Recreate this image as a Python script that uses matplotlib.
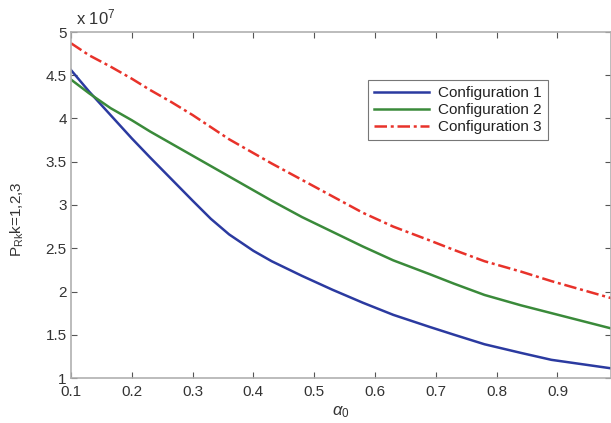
import numpy as np
import matplotlib

matplotlib.use('Agg')
from matplotlib import pyplot as plt

plt.rcParams['font.family'] = ['Liberation Sans', 'DejaVu Sans']
plt.rcParams['mathtext.fontset'] = 'custom'
plt.rcParams['mathtext.rm'] = 'Liberation Sans'
plt.rcParams['mathtext.it'] = 'Liberation Sans:italic'

# alpha_0 sample points
alpha = [0.1, 0.13, 0.165, 0.2, 0.23, 0.265, 0.3, 0.33, 0.36, 0.4, 0.43,
         0.48, 0.53, 0.58, 0.63, 0.69, 0.73, 0.78, 0.84, 0.89, 0.99]
# power values in units of 1e7
config1 = [4.56, 4.31, 4.04, 3.77, 3.55, 3.30, 3.05, 2.84, 2.66, 2.47, 2.35,
           2.18, 2.02, 1.87, 1.73, 1.59, 1.50, 1.39, 1.29, 1.21, 1.11]
config2 = [4.45, 4.29, 4.12, 3.98, 3.85, 3.71, 3.57, 3.45, 3.33, 3.17, 3.05,
           2.86, 2.69, 2.52, 2.36, 2.20, 2.09, 1.96, 1.84, 1.75, 1.57]
config3 = [4.87, 4.73, 4.60, 4.46, 4.33, 4.19, 4.04, 3.90, 3.76, 3.60, 3.48,
           3.29, 3.10, 2.91, 2.75, 2.59, 2.48, 2.35, 2.23, 2.12, 1.92]
labels = ['Configuration 1', 'Configuration 2', 'Configuration 3']

xticks = [0.1, 0.2, 0.3, 0.4, 0.5, 0.6, 0.7, 0.8, 0.9]
yticks = [1, 1.5, 2, 2.5, 3, 3.5, 4, 4.5, 5]

fig = plt.figure(figsize=(6.11, 4.23), dpi=100)
ax = fig.add_axes([71 / 611, 1 - 378 / 423, 1 - 71 / 611, (378 - 32) / 423])

ax.plot(alpha, config1, color='#2b3aa0', lw=1.8, label=labels[0])
ax.plot(alpha, config2, color='#3a8a3a', lw=1.8, label=labels[1])
ax.plot(alpha, config3, color='#e8322a', lw=1.8, ls=(0, (5, 1.5, 1.2, 1.5)), label=labels[2])

ax.set_xlim(0.1, 0.988)
ax.set_ylim(1, 5)
ax.set_xticks(xticks)
ax.set_xticklabels([str(t) for t in xticks])
ax.set_yticks(yticks)
ax.set_yticklabels(['1', '1.5', '2', '2.5', '3', '3.5', '4', '4.5', '5'])

tick_col = '#555555'
for s in ax.spines.values():
    s.set_color('#b0b0b0')
    s.set_linewidth(1.2)
ax.tick_params(direction='in', length=4, width=0.8, color=tick_col,
               labelsize=11, labelcolor='#333333', top=True, right=True, pad=3)
ax.tick_params(axis='x', pad=5)

ax.text(0.01, 1.012, r'x 10$^{7}$', transform=ax.transAxes, fontsize=12,
        color='#333333', ha='left', va='bottom')

ax.set_xlabel(r'$\alpha_{0}$', fontsize=12, color='#333333', labelpad=4)
ax.set_ylabel(r'P$_{\rm Rk}$k=1,2,3', fontsize=11, color='#333333')
ax.yaxis.set_label_coords(-0.083, 0.46)

leg = ax.legend(loc='upper left', bbox_to_anchor=(297 / 540, 1 - 48 / 346),
                fontsize=11, frameon=True, fancybox=False, handlelength=3.6,
                borderpad=0.4, labelspacing=0.2, handletextpad=0.6,
                borderaxespad=0)
leg.get_frame().set_edgecolor('#555555')
leg.get_frame().set_linewidth(0.8)
for t in leg.get_texts():
    t.set_color('#222222')

fig.savefig('out.png', dpi=100)
